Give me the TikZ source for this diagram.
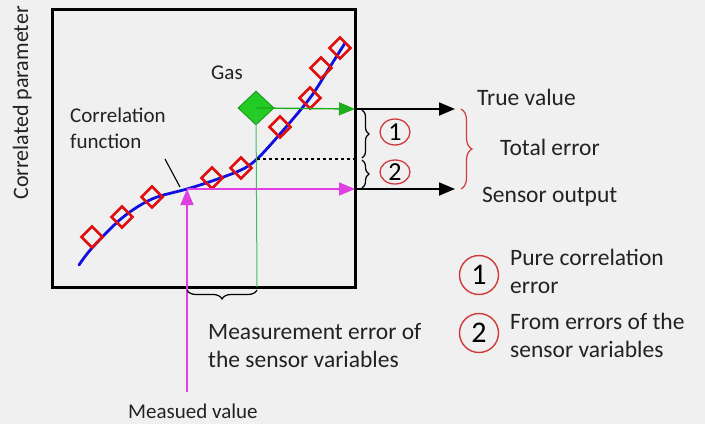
\documentclass[tikz,border=0pt]{standalone}
\usepackage{fontspec}
\setmainfont{Carlito}
\usetikzlibrary{arrows.meta,positioning,decorations.pathreplacing,shapes.geometric}
\definecolor{PageGrey}{HTML}{F0F0F0}
\definecolor{CurveBlue}{HTML}{1010E0}
\definecolor{SampleRed}{HTML}{E01010}
\definecolor{GasGreen}{HTML}{22CC22}
\definecolor{LineGreen}{HTML}{44BB66}
\definecolor{ReadMagenta}{HTML}{E040E0}
\definecolor{MarkRed}{HTML}{D03A3A}
\definecolor{TextDark}{HTML}{222222}

\begin{document}
\begin{tikzpicture}[x=1pt, y=-1pt,
    biglabel/.style={font=\fontsize{23.5}{28}\selectfont, text=TextDark, align=left, inner sep=0pt},
    smalllabel/.style={font=\fontsize{21}{26}\selectfont, text=TextDark, align=left, inner sep=0pt},
    sample/.style={diamond, draw=SampleRed, line width=2.6pt, minimum size=22pt, inner sep=0pt},
    gasmark/.style={diamond, draw=GasGreen!70!black, fill=GasGreen, line width=0.8pt,
                    minimum width=36pt, minimum height=34pt, inner sep=0pt},
    errtag/.style={ellipse, draw=MarkRed, line width=1.3pt, inner sep=0pt,
                   minimum width=30pt, minimum height=26pt, font=\fontsize{26}{26}\selectfont},
    keytag/.style={circle, draw=MarkRed, line width=1.4pt, inner sep=0pt,
                   minimum size=39pt, font=\fontsize{30}{30}\selectfont},
    arrow/.style={-{Triangle[length=16pt,width=13pt]}, line width=1.8pt, draw=black},
    brace/.style={decorate, decoration={brace, amplitude=7pt}, line width=1.2pt}
]
\useasboundingbox[fill=PageGrey] (0,0) rectangle (705,424);

% plot frame
\draw[line width=3pt] (52,9) rectangle (355,287);
\node[smalllabel, font=\fontsize{22}{26}\selectfont, rotate=90, anchor=base] (ylab) at (28,103) {Correlated parameter};

% correlation curve and samples
\draw[CurveBlue, line width=2.8pt, line cap=round] plot[smooth, tension=0.55] coordinates
  {(79,265) (92,248) (122,218) (152,199) (187,189) (212,181) (241,170) (257,159)
   (280,134) (310,98) (328,70) (345,43)};
\foreach \px/\py [count=\i] in {92/237, 122/217, 152/197, 212/178, 241/168, 280/127, 310/98, 321/68, 340/48}
  \node[sample] (s\i) at (\px,\py) {};

\coordinate (meas) at (187,189);
\coordinate (corr) at (257,159);
\coordinate (measbase) at (187,392);
\coordinate (gasbase) at (257,287);
\coordinate (edgetrue) at (355,109);
\coordinate (edgecorr) at (355,159);
\coordinate (edgesens) at (355,189);
\coordinate (truetip) at (455,109);
\coordinate (senstip) at (455,189);

\node[gasmark] (gas) at (256,108) {};
\node[smalllabel, anchor=base west] (gaslab) at (211,79) {Gas};
\node[smalllabel, anchor=base west] (corrlab) at (70,148) {Correlation\\function};
\coordinate (pointer) at (165,159);
\draw[line width=1.1pt] (pointer) -- (180,187);

% readings
\draw[LineGreen, line width=1pt] (gas.center) -- (gasbase);
\draw[-{Triangle[length=16pt,width=13pt]}, GasGreen!85!black, line width=1.4pt] (gas.center) -- (edgetrue);
\draw[dashed, line width=1.2pt] (corr) -- (edgecorr);
\draw[-{Triangle[length=16pt,width=13pt]}, ReadMagenta, line width=1.6pt] (measbase) -- (meas);
\draw[-{Triangle[length=16pt,width=13pt]}, ReadMagenta, line width=1.6pt] (meas) -- (edgesens);

% outputs
\draw[arrow] (edgetrue) -- (truetip);
\draw[arrow] (edgesens) -- (senstip);
\node[biglabel, anchor=base west] (truelab) at (477,105) {True value};
\node[biglabel, anchor=base west] (senslab) at (482,202) {Sensor output};
\node[biglabel, anchor=base west] (totlab) at (500,155) {Total error};

\draw[brace] (362,110) -- (362,158);
\draw[brace] (362,160) -- (362,188);
\node[errtag] (e1) at (395,132) {1};
\node[errtag, minimum height=24pt] (e2) at (395,172) {2};
\draw[brace, draw=MarkRed, decoration={amplitude=11pt}] (461,109) -- (461,189);

% measurement error
\draw[brace, decoration={amplitude=9pt}] (257,290) -- (187,290);
\node[biglabel, anchor=base west] (mealab) at (208,367) {Measurement error of\\the sensor variables};
\node[smalllabel, anchor=base west] (measlab) at (128,418) {Measued value};

% legend
\node[keytag] (k1) at (479,275) {1};
\node[biglabel, anchor=base west] (k1lab) at (510,293) {Pure correlation\\error};
\node[keytag] (k2) at (479,333) {2};
\node[biglabel, anchor=base west] (k2lab) at (510,357) {From errors of the\\sensor variables};
\end{tikzpicture}
\end{document}
